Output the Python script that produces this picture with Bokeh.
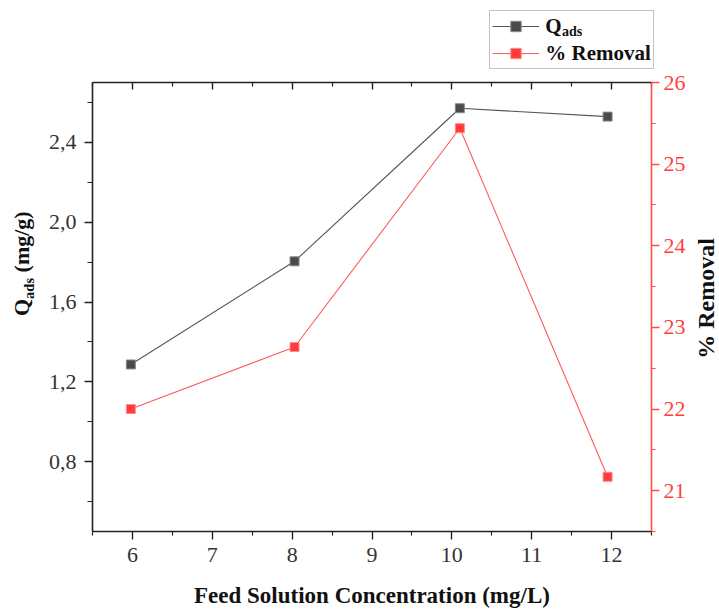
import math
from bokeh.plotting import figure
from bokeh.layouts import column, row
from bokeh.models import Range1d, LinearAxis, FixedTicker, Legend, LegendItem, Label
from bokeh.embed import file_html
from bokeh.resources import INLINE

# ---- data ----
feed_conc = [5.98, 8.03, 10.10, 11.95]          # mg/L
q_ads = [1.287, 1.804, 2.571, 2.529]            # mg/g
removal = [22.00, 22.76, 25.44, 21.17]          # %

x_ticks = [6, 7, 8, 9, 10, 11, 12]
x_minor = [5.5, 6.5, 7.5, 8.5, 9.5, 10.5, 11.5, 12.5]
q_ticks = [0.8, 1.2, 1.6, 2.0, 2.4]
q_tick_labels = ["0,8", "1,2", "1,6", "2,0", "2,4"]
q_minor = [0.6, 1.0, 1.4, 1.8, 2.2, 2.6]
rem_ticks = [21, 22, 23, 24, 25, 26]
rem_minor = [20.5, 21.5, 22.5, 23.5, 24.5, 25.5]

FONT = "Liberation Serif"
DARK = "#222222"
RED = "#ff4d4d"
RED_TXT = "#ff3f3f"
TITLE_COL = "#111111"
Q_LINE, Q_FILL, Q_EDGE = "#555555", "#4a4a4a", "#8a8a8a"
R_LINE, R_FILL, R_EDGE = "#ff5a5a", "#ff3b3b", "#ff8a8a"

TOP_H = 69      # strip holding the legend
LEFT_W = 40     # strip holding the left axis title
RIGHT_W = 31    # strip holding the right axis title
TOTAL_W, TOTAL_H = 719, 610
MAIN_W = TOTAL_W - LEFT_W - RIGHT_W
MAIN_H = TOTAL_H - TOP_H
FRAME_BOTTOM = 533   # canvas y of the plot frame's bottom edge


def strip(w, h):
    f = figure(width=w, height=h, output_backend="svg", toolbar_location=None,
               x_range=Range1d(0, w), y_range=Range1d(0, h),
               x_axis_location=None, y_axis_location=None, min_border=0)
    f.grid.visible = False
    f.outline_line_color = None
    f.background_fill_color = "white"
    f.border_fill_color = "white"
    return f


# ---------------- main plot ----------------
p = figure(width=MAIN_W, height=MAIN_H, output_backend="svg", toolbar_location=None,
           x_range=Range1d(5.5, 12.5), y_range=Range1d(0.45, 2.7),
           x_axis_location=None, y_axis_location=None,
           min_border_left=92 - LEFT_W, min_border_right=MAIN_W + LEFT_W - 652,
           min_border_top=82 - TOP_H, min_border_bottom=77)
p.extra_y_ranges = {"rem": Range1d(20.5, 26)}
p.grid.visible = False
p.outline_line_color = None
p.background_fill_color = "white"
p.border_fill_color = "white"


def style(ax, line_color, label_color):
    ax.axis_line_color = line_color
    ax.axis_line_width = 1.6
    ax.major_tick_line_color = line_color
    ax.minor_tick_line_color = line_color
    ax.major_tick_line_width = 1.4
    ax.minor_tick_line_width = 1.2
    ax.major_label_text_font = FONT
    ax.major_label_text_font_size = "22px"
    ax.major_label_text_color = label_color
    ax.axis_label_text_font = FONT
    ax.axis_label_text_font_style = "bold"
    ax.axis_label_text_color = TITLE_COL


bottom = LinearAxis(ticker=FixedTicker(ticks=x_ticks, minor_ticks=x_minor),
                    axis_label="Feed Solution Concentration (mg/L)")
style(bottom, DARK, "#333333")
bottom.major_tick_out = 8
bottom.major_tick_in = 0
bottom.minor_tick_out = 4
bottom.minor_tick_in = 0
bottom.major_label_standoff = 8
bottom.axis_label_text_font_size = "23px"
bottom.axis_label_standoff = 18
p.add_layout(bottom, "below")

top = LinearAxis(ticker=FixedTicker(ticks=x_ticks, minor_ticks=x_minor))
style(top, DARK, None)
top.major_tick_out = 0
top.major_tick_in = 7
top.minor_tick_out = 0
top.minor_tick_in = 4
top.major_label_text_color = None
top.major_label_text_font_size = "0px"
top.major_label_standoff = 0
top.axis_label_standoff = 0
p.add_layout(top, "above")

left = LinearAxis(ticker=FixedTicker(ticks=q_ticks, minor_ticks=q_minor),
                  major_label_overrides=dict(zip(q_ticks, q_tick_labels)))
style(left, DARK, "#333333")
left.major_tick_out = 8
left.major_tick_in = 0
left.minor_tick_out = 5
left.minor_tick_in = 0
left.major_label_standoff = 8
left.axis_label_standoff = 0
p.add_layout(left, "left")

right = LinearAxis(y_range_name="rem",
                   ticker=FixedTicker(ticks=rem_ticks, minor_ticks=rem_minor))
style(right, RED, RED_TXT)
right.major_tick_out = 8
right.major_tick_in = 0
right.minor_tick_out = 4
right.minor_tick_in = 0
right.major_label_standoff = 4
right.axis_label_standoff = 0
p.add_layout(right, "right")

p.line(feed_conc, q_ads, line_color=Q_LINE, line_width=1.1)
p.scatter(feed_conc, q_ads, marker="square", size=9,
          fill_color=Q_FILL, line_color=Q_EDGE, line_width=1)
p.line(feed_conc, removal, y_range_name="rem", line_color=R_LINE, line_width=1.1)
p.scatter(feed_conc, removal, y_range_name="rem", marker="square", size=9,
          fill_color=R_FILL, line_color=R_EDGE, line_width=1)

# ---------------- legend strip (top) ----------------
# the series are repeated here on ranges that keep them out of view, only so that
# the legend has renderers to draw its samples from
top_strip = strip(TOTAL_W, TOP_H)
top_strip.extra_x_ranges = {"off": Range1d(1000, 1001)}
top_strip.extra_y_ranges = {"offq": Range1d(1000, 1001), "offr": Range1d(1000, 1001)}
lq_line = top_strip.line(feed_conc, q_ads, x_range_name="off", y_range_name="offq",
                         line_color=Q_LINE, line_width=1.1)
lq_pts = top_strip.scatter(feed_conc, q_ads, x_range_name="off", y_range_name="offq",
                           marker="square", size=9,
                           fill_color=Q_FILL, line_color=Q_EDGE, line_width=1)
lr_line = top_strip.line(feed_conc, removal, x_range_name="off", y_range_name="offr",
                         line_color=R_LINE, line_width=1.1)
lr_pts = top_strip.scatter(feed_conc, removal, x_range_name="off", y_range_name="offr",
                           marker="square", size=9,
                           fill_color=R_FILL, line_color=R_EDGE, line_width=1)
legend = Legend(items=[LegendItem(label="Q", renderers=[lq_line, lq_pts]),
                       LegendItem(label="% Removal", renderers=[lr_line, lr_pts])],
                location=(489.3, 0), orientation="vertical",
                label_text_font=FONT, label_text_font_style="bold",
                label_text_font_size="21px", label_text_color=TITLE_COL,
                glyph_width=47, glyph_height=26, label_height=26,
                padding=2, spacing=1, label_standoff=6, margin=0,
                border_line_color="#888888", border_line_width=1,
                background_fill_color="white", background_fill_alpha=1)
top_strip.add_layout(legend, "center")

# subscript "ads" of the legend's Q: a second, frameless legend whose sample is invisible
sub_line = top_strip.line(feed_conc, q_ads, x_range_name="off", y_range_name="offq",
                          line_alpha=0)
sub_legend = Legend(items=[LegendItem(label="ads", renderers=[sub_line])],
                    location=(562, 28.7), orientation="vertical",
                    label_text_font=FONT, label_text_font_style="bold",
                    label_text_font_size="14px", label_text_color=TITLE_COL,
                    glyph_width=0, glyph_height=14, label_height=14,
                    padding=0, spacing=0, label_standoff=0, margin=0,
                    border_line_alpha=0, background_fill_alpha=0)
top_strip.add_layout(sub_legend, "center")

# ---------------- left title strip ----------------
rot = math.pi / 2
left_strip = strip(LEFT_W, MAIN_H)
for txt, xx, cy, fs in [("Q", 20.8, 317.5, "22px"),
                        ("ads", 28.0, 300.4, "14.5px"),
                        ("(mg/g)", 20.8, 273.9, "22px")]:
    left_strip.add_layout(Label(x=xx, y=FRAME_BOTTOM - cy, x_units="screen", y_units="screen",
                                text=txt, angle=rot, text_font=FONT, text_font_style="bold",
                                text_font_size=fs, text_color=TITLE_COL,
                                text_align="left", text_baseline="middle"))

# ---------------- right title strip ----------------
right_strip = strip(RIGHT_W, MAIN_H)
right_strip.add_layout(Label(x=17.5, y=FRAME_BOTTOM - 300, x_units="screen", y_units="screen",
                             text="% Removal", angle=rot, text_font=FONT,
                             text_font_style="bold", text_font_size="24px",
                             text_color=TITLE_COL, text_align="center",
                             text_baseline="middle"))

layout = column(top_strip, row(left_strip, p, right_strip, spacing=0), spacing=0)

open("out.html", "w").write(file_html(layout, INLINE))
